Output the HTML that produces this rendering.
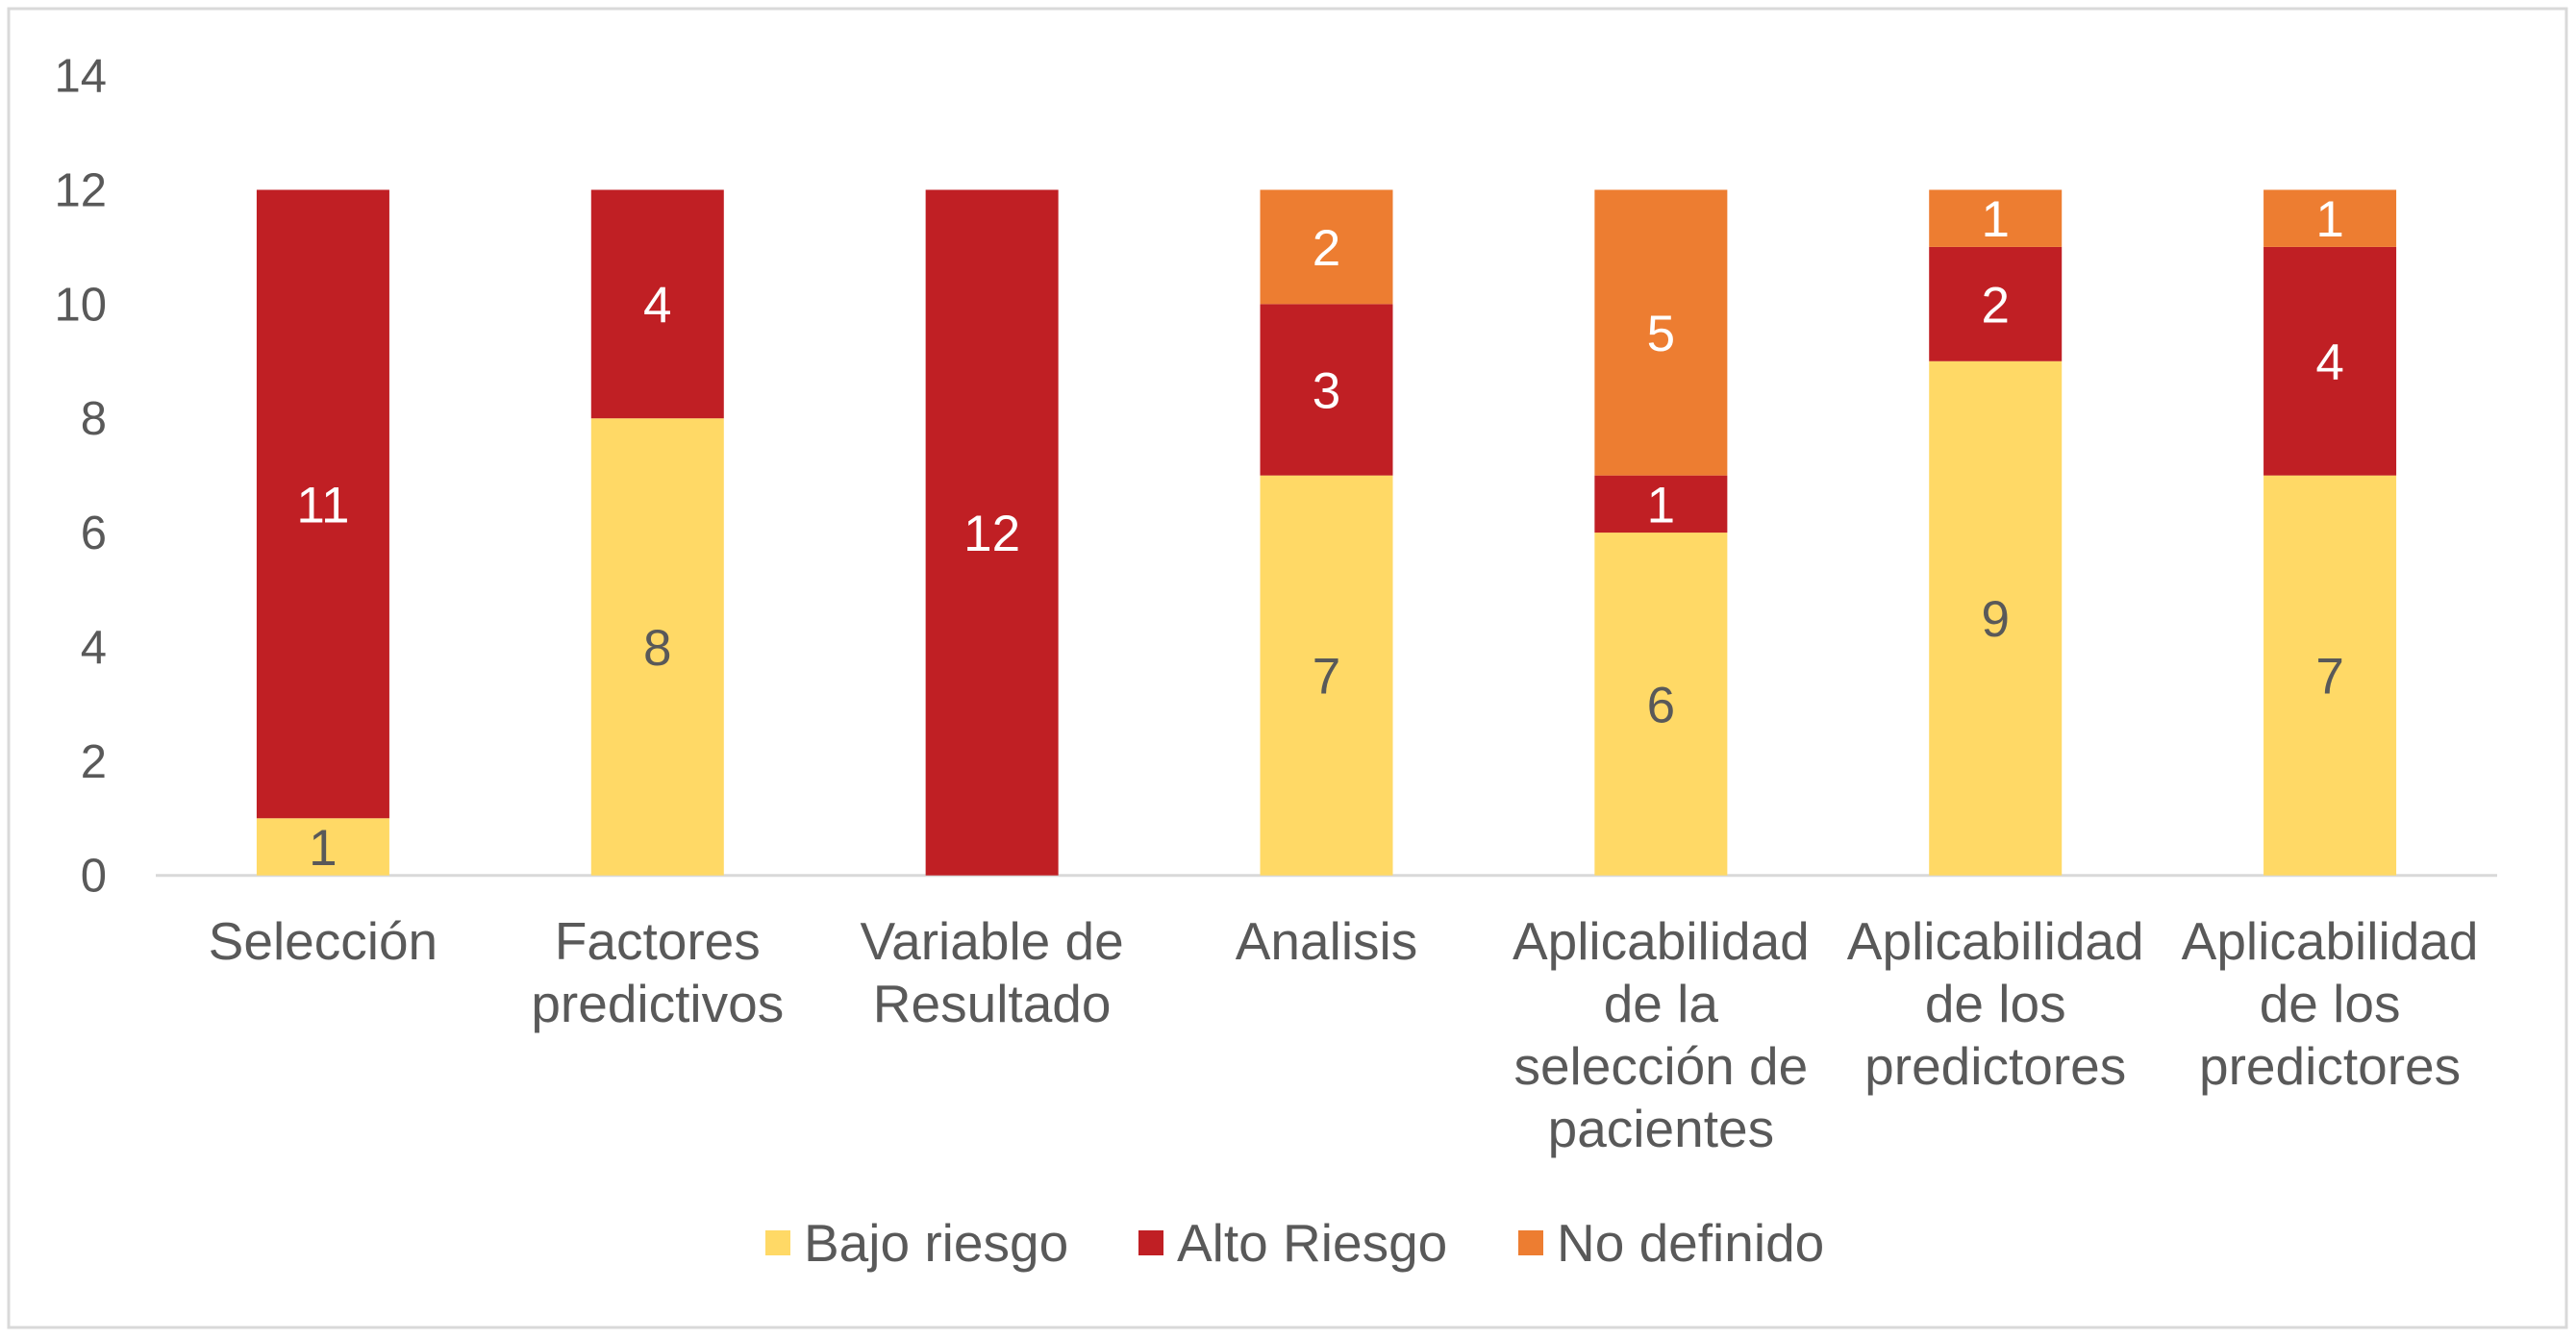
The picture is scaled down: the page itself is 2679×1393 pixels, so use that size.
<!DOCTYPE html>
<html><head><meta charset="utf-8"><style>
html,body{margin:0;padding:0;background:#fff;}
svg{display:block;font-family:"Liberation Sans",sans-serif;}
</style></head><body>
<svg id="chart" width="2679" height="1393" viewBox="0 0 2679 1393">
<rect x="9" y="9" width="2660" height="1372" fill="#fff" stroke="#d9d9d9" stroke-width="3"/>
<g id="grid"></g><g id="bars"></g><g id="labels"></g><g id="legend"></g>
</svg>
<script>
const categories=[["Selección"],["Factores","predictivos"],["Variable de","Resultado"],["Analisis"],["Aplicabilidad","de la","selección de","pacientes"],["Aplicabilidad","de los","predictores"],["Aplicabilidad","de los","predictores"]];
const bajo=[1,8,0,7,6,9,7];
const alto=[11,4,12,3,1,2,4];
const noDef=[0,0,0,2,5,1,1];
const ticks=[0,2,4,6,8,10,12,14];
const seriesNames=["Bajo riesgo","Alto Riesgo","No definido"];
const colors=["#FFD966","#C01F24","#ED7D31"];
const textColors=["#595959","#ffffff","#ffffff"];
const NS="http://www.w3.org/2000/svg";
const x0=162,x1=2597,yBase=910.7,yTop=78.6,maxV=14;
const y=v=>yBase-(yBase-yTop)*v/maxV;
const band=(x1-x0)/categories.length;
const cx=i=>x0+band*(i+0.5);
const bw=138;
function mk(tag,attrs,parent,text){const e=document.createElementNS(NS,tag);for(const k in attrs)e.setAttribute(k,attrs[k]);if(text!==undefined)e.textContent=text;parent.appendChild(e);return e;}
const grid=document.getElementById('grid'),bars=document.getElementById('bars'),labels=document.getElementById('labels'),legend=document.getElementById('legend');
ticks.forEach(t=>{const el=mk('text',{x:111,y:y(t)+17,'text-anchor':'end','font-size':49,fill:'#595959'},grid,t);

});
const series=[bajo,alto,noDef];
categories.forEach((c,i)=>{let acc=0;
series.forEach((s,k)=>{const v=s[i];if(v>0){
const r=mk('rect',{x:cx(i)-bw/2,y:y(acc+v),width:bw,height:y(acc)-y(acc+v),fill:colors[k]},bars);


const t=mk('text',{x:cx(i),y:(y(acc)+y(acc+v))/2+19,'text-anchor':'middle','font-size':53,fill:textColors[k]},labels,v);

}
acc+=v;});
c.forEach((line,j)=>{const t=mk('text',{x:cx(i),y:998+j*65,'text-anchor':'middle','font-size':55,fill:'#595959'},labels,line);

});
});
const ax=mk('line',{x1:x0,x2:x1,y1:yBase,y2:yBase,stroke:'#d9d9d9','stroke-width':3},grid);


const lx=[796,1184,1579];
seriesNames.forEach((n,k)=>{
const r=mk('rect',{x:lx[k],y:1280,width:26,height:26,fill:colors[k]},legend);


const t=mk('text',{x:lx[k]+40,y:1312,'font-size':55,fill:'#595959'},legend,n);

});
</script>
</body></html>
